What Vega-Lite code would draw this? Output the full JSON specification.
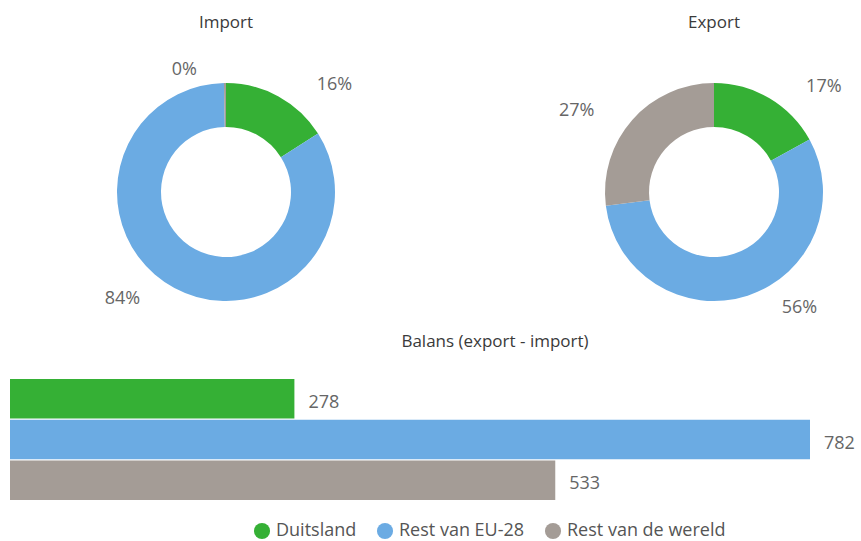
{
  "$schema": "https://vega.github.io/schema/vega-lite/v6.json",
  "padding": {"left": 10, "top": 14, "right": 0, "bottom": 0},
  "spacing": 8,
  "config": {
    "font": "Open Sans",
    "view": {"stroke": null},
    "title": {"fontSize": 17, "fontWeight": "normal", "color": "#3a3a3a", "offset": 28, "anchor": "middle", "font": "Open Sans"},
    "legend": {
      "orient": "none", "legendX": 243, "legendY": 462, "direction": "horizontal",
      "labelFontSize": 18, "labelColor": "#555", "labelFont": "Open Sans",
      "symbolType": "circle", "symbolSize": 260, "symbolStrokeWidth": 0, "columnPadding": 19, "labelOffset": 5, "labelLimit": 400
    }
  },
  "datasets": {
    "imp": [
      {"cat": "Duitsland", "pct": 0.16},
      {"cat": "Rest van EU-28", "pct": 0.837},
      {"cat": "Rest van de wereld", "pct": 0.003}
    ],
    "exp": [
      {"cat": "Duitsland", "pct": 0.17},
      {"cat": "Rest van EU-28", "pct": 0.56},
      {"cat": "Rest van de wereld", "pct": 0.27}
    ],
    "bal": [
      {"cat": "Duitsland", "val": 278},
      {"cat": "Rest van EU-28", "val": 782},
      {"cat": "Rest van de wereld", "val": 533}
    ]
  },
  "vconcat": [
    {
      "hconcat": [
        {
          "width": 432, "height": 264,
          "title": "Import",
          "data": {"name": "imp"},
          "encoding": {
            "theta": {"field": "pct", "type": "quantitative", "stack": true},
            "order": {"field": "cat"},
            "color": {"field": "cat", "type": "nominal", "legend": {"title": null},
              "scale": {"domain": ["Duitsland", "Rest van EU-28", "Rest van de wereld"], "range": ["#35B035", "#6BABE3", "#A49C96"]}}
          },
          "layer": [
            {"mark": {"type": "arc", "outerRadius": 109, "innerRadius": 65}},
            {"mark": {"type": "text", "radius": 122, "align": "left", "baseline": "middle", "dx": 32, "fontSize": 18},
             "encoding": {"color": {"value": "#666"},
               "text": {"condition": {"test": "datum.cat === 'Duitsland'", "field": "pct", "type": "quantitative", "format": ".0%"}, "value": ""}}},
            {"mark": {"type": "text", "radius": 122, "align": "right", "baseline": "middle", "dx": -28, "fontSize": 18},
             "encoding": {"color": {"value": "#666"},
               "text": {"condition": {"test": "datum.cat !== 'Duitsland'", "field": "pct", "type": "quantitative", "format": ".0%"}, "value": ""}}}
          ]
        },
        {
          "width": 250, "height": 264,
          "title": "Export",
          "data": {"name": "exp"},
          "encoding": {
            "theta": {"field": "pct", "type": "quantitative", "stack": true},
            "order": {"field": "cat"},
            "color": {"field": "cat", "type": "nominal", "legend": {"title": null},
              "scale": {"domain": ["Duitsland", "Rest van EU-28", "Rest van de wereld"], "range": ["#35B035", "#6BABE3", "#A49C96"]}}
          },
          "layer": [
            {"mark": {"type": "arc", "outerRadius": 109, "innerRadius": 65}},
            {"mark": {"type": "text", "radius": 122, "align": "left", "baseline": "middle", "dx": 30, "fontSize": 18},
             "encoding": {"color": {"value": "#666"},
               "text": {"condition": {"test": "datum.cat !== 'Rest van de wereld'", "field": "pct", "type": "quantitative", "format": ".0%"}, "value": ""}}},
            {"mark": {"type": "text", "radius": 122, "align": "right", "baseline": "middle", "dx": -28, "fontSize": 18},
             "encoding": {"color": {"value": "#666"},
               "text": {"condition": {"test": "datum.cat === 'Rest van de wereld'", "field": "pct", "type": "quantitative", "format": ".0%"}, "value": ""}}}
          ]
        }
      ],
      "spacing": 117
    },
    {
      "width": 800, "height": 121,
      "title": {"text": "Balans (export - import)", "dx": 85, "offset": 28},
      "data": {"name": "bal"},
      "encoding": {
        "y": {"field": "cat", "type": "nominal", "axis": null, "scale": {"paddingInner": 0.03, "paddingOuter": 0}},
        "x": {"field": "val", "type": "quantitative", "axis": null, "scale": {"domain": [0, 782], "nice": false, "zero": true}}
      },
      "layer": [
        {"mark": {"type": "bar"},
         "encoding": {"color": {"field": "cat", "type": "nominal", "legend": {"title": null},
           "scale": {"domain": ["Duitsland", "Rest van EU-28", "Rest van de wereld"], "range": ["#35B035", "#6BABE3", "#A49C96"]}}}},
        {"mark": {"type": "text", "align": "left", "baseline": "middle", "dx": 14, "dy": 4, "fontSize": 18},
         "encoding": {"text": {"field": "val", "type": "quantitative"}, "color": {"value": "#666"}}}
      ]
    }
  ]
}
